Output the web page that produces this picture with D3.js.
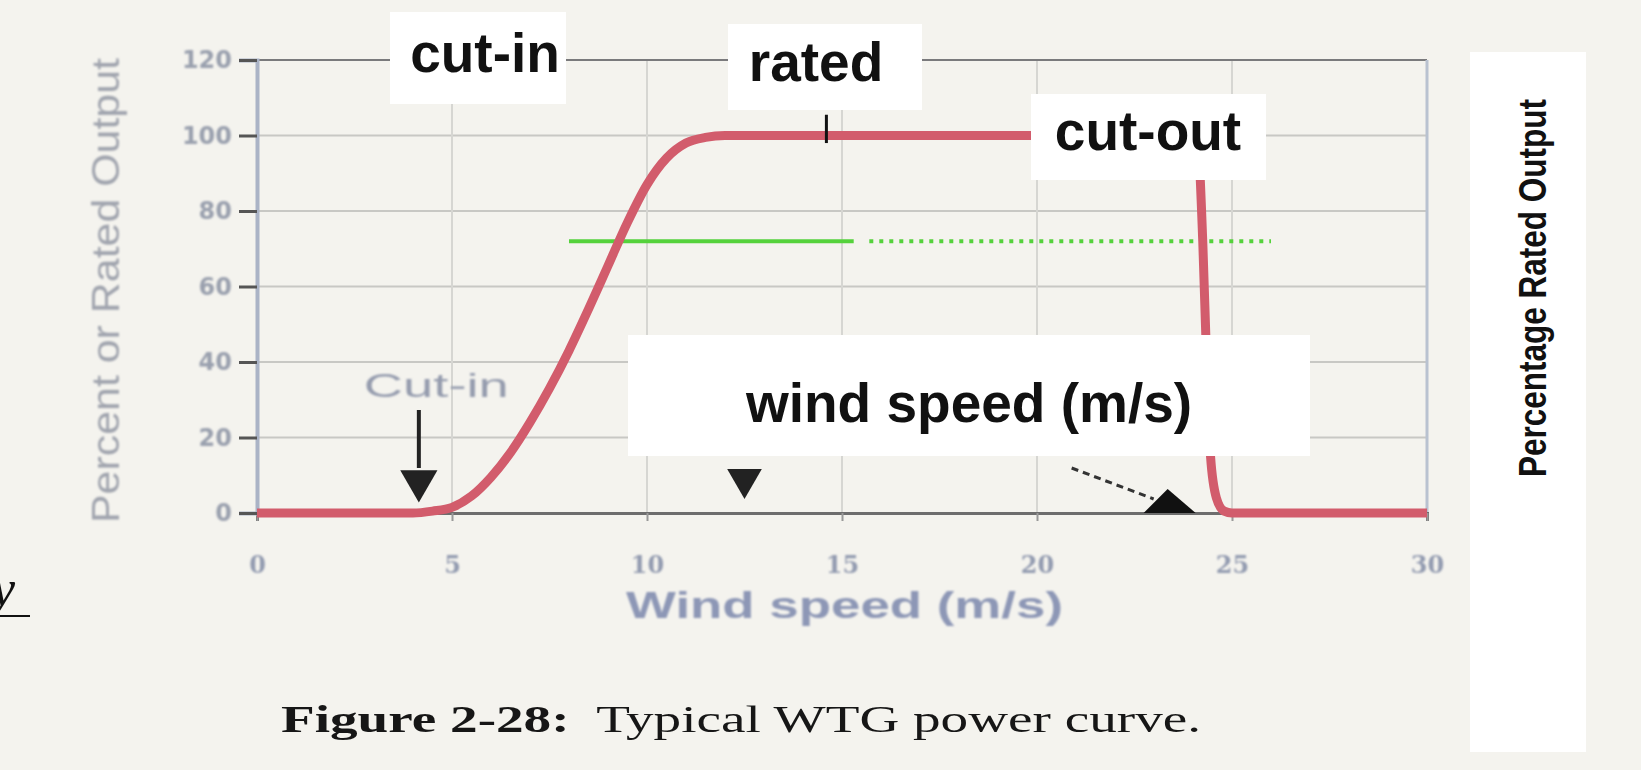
<!DOCTYPE html>
<html lang="en">
<head>
    <meta charset="UTF-8">
    <script src="https://d3js.org/d3.v7.min.js"></script>
    <title>Typical WTG power curve</title>
    <style>
        body { margin: 0; background: #f4f3ee; }
        svg { display: block; }
        .big { font-family: "Liberation Sans", Arial, sans-serif; font-weight: bold; fill: #111; }
        .faded { font-family: "Liberation Sans", Arial, sans-serif; font-weight: bold; fill: #959cae; }
    </style>
</head>
<body>
    <svg width="1641" height="770"></svg>

    <script>
        // wind speed (m/s) vs percent of rated output
        var windSpeed = [0, 1, 2, 3, 4, 4.5, 5, 5.5, 6, 6.5, 7, 7.5, 8, 8.5, 9, 9.5, 10, 10.5, 11, 11.5, 12, 13, 15, 18, 21, 24.1, 24.25, 24.35, 24.45, 24.6, 24.8, 25, 27, 30];
        var outputPct = [0, 0, 0, 0, 0, 0.5, 1.5, 4.5, 9.5, 16, 24, 33, 43, 54, 65.5, 77, 87, 94, 98, 99.5, 100, 100, 100, 100, 100, 100, 72, 40, 15, 4, 0.5, 0, 0, 0];

        var xTicks = [0, 5, 10, 15, 20, 25, 30];
        var yTicks = [0, 20, 40, 60, 80, 100, 120];

        // green marker line at ~72 %
        var greenLevel = 72;
        var greenSolid = [8, 15.3];
        var greenDotted = [15.7, 26];

        // markers: cut-in arrow, rated triangle, cut-out arrow
        var cutInSpeed = 4.15;
        var ratedMarker = 12.5;
        var cutOutMarker = 23.35;
        var ratedTick = 14.6;

        var svg = d3.select('svg');
        var pLeft = 257, pRight = 1427, pTop = 60, pBottom = 513;

        var x = d3.scaleLinear().domain([0, 30]).range([pLeft, pRight]);
        var y = d3.scaleLinear().domain([0, 120]).range([pBottom, pTop]);

        var defs = svg.append('defs');
        defs.append('filter').attr('id', 'scan')
            .append('feGaussianBlur').attr('stdDeviation', 0.9);
        defs.append('filter').attr('id', 'soft')
            .append('feGaussianBlur').attr('stdDeviation', 0.45);

        // grid
        var grid = svg.append('g');
        grid.selectAll('.hg')
            .data(yTicks.filter(d => d > 0 && d < 120))
            .enter().append('line')
            .attr('x1', pLeft).attr('x2', pRight)
            .attr('y1', d => y(d)).attr('y2', d => y(d))
            .attr('stroke', '#c8c8c4').attr('stroke-width', 2);
        grid.selectAll('.vg')
            .data(xTicks.filter(d => d > 0 && d < 30))
            .enter().append('line')
            .attr('y1', pTop).attr('y2', pBottom)
            .attr('x1', d => x(d)).attr('x2', d => x(d))
            .attr('stroke', '#d6d6d2').attr('stroke-width', 2);

        // frame
        svg.append('line').attr('x1', pLeft - 18).attr('x2', pRight).attr('y1', pTop).attr('y2', pTop)
            .attr('stroke', '#7a7a7c').attr('stroke-width', 2);
        svg.append('line').attr('x1', pRight).attr('x2', pRight).attr('y1', pTop).attr('y2', pBottom)
            .attr('stroke', '#b9c2d0').attr('stroke-width', 3);

        // axes
        var xAxis = svg.append('g')
            .attr('transform', 'translate(0,' + pBottom + ')')
            .call(d3.axisBottom(x).tickValues(xTicks).tickSize(8).tickPadding(35));
        xAxis.select('.domain').attr('stroke', '#6d6d6d').attr('stroke-width', 3);
        xAxis.selectAll('.tick line').attr('stroke', '#999').attr('stroke-width', 2);
        xAxis.selectAll('text').attr('class', 'faded').style('font-size', '24px')
            .style('font-family', '"DejaVu Serif", serif').style('fill', '#939bb0')
            .attr('filter', 'url(#scan)');

        var yAxis = svg.append('g')
            .attr('transform', 'translate(' + pLeft + ',0)')
            .call(d3.axisLeft(y).tickValues(yTicks).tickSize(18).tickPadding(7));
        yAxis.select('.domain').attr('stroke', '#aab3c6').attr('stroke-width', 4);
        yAxis.selectAll('.tick line').attr('stroke', '#555').attr('stroke-width', 3);
        yAxis.selectAll('text').attr('class', 'faded').style('font-size', '24px')
            .style('font-family', '"DejaVu Sans", sans-serif').style('fill', '#9aa0ae')
            .attr('filter', 'url(#scan)');

        // axis titles of the scanned chart
        svg.append('text').attr('class', 'faded')
            .attr('x', 626).attr('y', 618)
            .attr('textLength', 437).attr('lengthAdjust', 'spacingAndGlyphs')
            .attr('filter', 'url(#scan)')
            .style('font-size', '37px').style('fill', '#8d97b6')
            .text('Wind speed (m/s)');
        svg.append('text').attr('class', 'faded')
            .attr('transform', 'translate(119,523) rotate(-90)')
            .attr('textLength', 465).attr('lengthAdjust', 'spacingAndGlyphs')
            .attr('filter', 'url(#scan)')
            .style('font-size', '38px').style('font-weight', 'normal').style('fill', '#a0a4ae')
            .text('Percent or Rated Output');

        // green lines
        svg.append('line')
            .attr('x1', x(greenSolid[0])).attr('x2', x(greenSolid[1]))
            .attr('y1', y(greenLevel)).attr('y2', y(greenLevel))
            .attr('stroke', '#55d23c').attr('stroke-width', 4);
        svg.append('line')
            .attr('x1', x(greenDotted[0])).attr('x2', x(greenDotted[1]))
            .attr('y1', y(greenLevel)).attr('y2', y(greenLevel))
            .attr('stroke', '#55d23c').attr('stroke-width', 4)
            .attr('stroke-dasharray', '4,6');

        // power curve
        var line = d3.line()
            .x((d, i) => x(windSpeed[i]))
            .y(d => y(d))
            .curve(d3.curveMonotoneX);
        svg.append('path')
            .datum(outputPct)
            .attr('d', line)
            .attr('fill', 'none')
            .attr('stroke', '#d25c6c')
            .attr('stroke-width', 9)
            .attr('stroke-linejoin', 'round');

        // cut-in arrow and label
        svg.append('text').attr('class', 'faded')
            .attr('x', x(cutInSpeed) - 55).attr('y', 397)
            .attr('textLength', 145).attr('lengthAdjust', 'spacingAndGlyphs')
            .attr('filter', 'url(#scan)')
            .style('font-size', '33px').style('font-weight', 'normal')
            .text('Cut-in');
        svg.append('line')
            .attr('x1', x(cutInSpeed)).attr('x2', x(cutInSpeed))
            .attr('y1', 410).attr('y2', 468)
            .attr('stroke', '#222').attr('stroke-width', 4);
        svg.append('path')
            .attr('d', d3.symbol(d3.symbolTriangle, 600)())
            .attr('transform', 'translate(' + x(cutInSpeed) + ',' + (y(0) - 32) + ') rotate(180)')
            .attr('fill', '#222');

        // rated triangle
        svg.append('path')
            .attr('d', d3.symbol(d3.symbolTriangle, 520)())
            .attr('transform', 'translate(' + x(ratedMarker) + ',' + (y(0) - 34) + ') rotate(180)')
            .attr('fill', '#222');

        // cut-out dashed arrow
        svg.append('line')
            .attr('x1', x(cutOutMarker) - 96).attr('y1', y(0) - 45)
            .attr('x2', x(cutOutMarker) - 14).attr('y2', y(0) - 14)
            .attr('stroke', '#333').attr('stroke-width', 3)
            .attr('stroke-dasharray', '7,5');
        svg.append('path')
            .attr('d', 'M' + (x(cutOutMarker) - 24) + ',' + y(0) +
                'L' + x(cutOutMarker) + ',' + (y(0) - 24) +
                'L' + (x(cutOutMarker) + 28) + ',' + y(0) + 'Z')
            .attr('fill', '#111');

        // white annotation boxes
        var boxes = [
            { t: 'cut-in', x0: 390, x1: 566, y0: 12, y1: 104, tx: 485, ty: 72 },
            { t: 'rated', x0: 728, x1: 922, y0: 24, y1: 110, tx: 816, ty: 81 },
            { t: 'cut-out', x0: 1031, x1: 1266, y0: 94, y1: 180, tx: 1148, ty: 150 },
            { t: 'wind speed (m/s)', x0: 628, x1: 1310, y0: 335, y1: 456, tx: 969, ty: 422 }
        ];
        boxes.forEach(function (b) {
            svg.append('rect')
                .attr('x', b.x0).attr('y', b.y0)
                .attr('width', b.x1 - b.x0).attr('height', b.y1 - b.y0)
                .attr('fill', '#fff');
            svg.append('text').attr('class', 'big')
                .attr('x', b.tx).attr('y', b.ty)
                .attr('text-anchor', 'middle').style('font-size', '55px')
                .text(b.t);
        });

        // tick under "rated"
        svg.append('line')
            .attr('x1', x(ratedTick)).attr('x2', x(ratedTick))
            .attr('y1', y(105.5)).attr('y2', y(98))
            .attr('stroke', '#111').attr('stroke-width', 3);

        // right label
        svg.append('rect')
            .attr('x', 1470).attr('y', 52).attr('width', 116).attr('height', 700)
            .attr('fill', '#fff');
        svg.append('text').attr('class', 'big')
            .attr('transform', 'translate(1546,477) rotate(-90)')
            .attr('textLength', 378).attr('lengthAdjust', 'spacingAndGlyphs')
            .style('font-size', '38px')
            .text('Percentage Rated Output');

        // caption
        var cap = svg.append('text')
            .attr('x', 281).attr('y', 732)
            .attr('textLength', 920).attr('lengthAdjust', 'spacingAndGlyphs')
            .style('font-family', '"Liberation Serif", "Times New Roman", serif')
            .style('font-size', '38px').attr('fill', '#151515')
            .attr('filter', 'url(#soft)');
        cap.append('tspan').attr('font-weight', 'bold').text('Figure 2-28:');
        cap.append('tspan').text('\u00a0 Typical WTG power curve.');

        // clipped underlined letter at the left edge
        svg.append('text')
            .attr('x', -8).attr('y', 606)
            .style('font-family', '"Liberation Serif", serif')
            .style('font-style', 'italic').style('font-size', '52px')
            .attr('fill', '#111')
            .text('y');
        svg.append('line')
            .attr('x1', 0).attr('x2', 30).attr('y1', 616).attr('y2', 616)
            .attr('stroke', '#111').attr('stroke-width', 2);
    </script>
</body>
</html>
